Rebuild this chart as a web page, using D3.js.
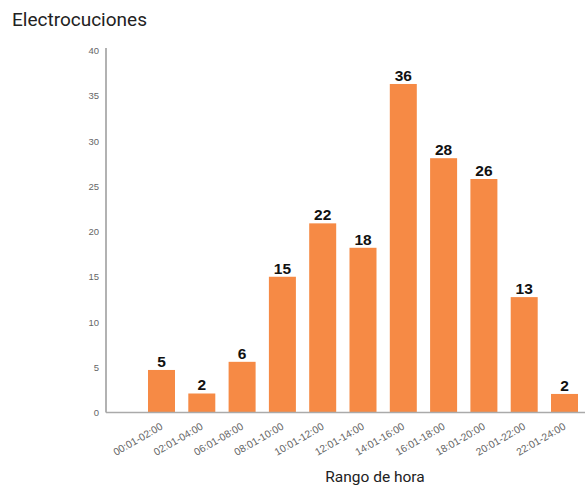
<!DOCTYPE html>
<html>
<head>
<meta charset="utf-8">
<script src="https://cdn.jsdelivr.net/npm/d3@7"></script>
<style>
  html, body { margin: 0; padding: 0; background: #fff; }
  svg { display: block; }
</style>
</head>
<body>
<svg id="chart" width="585" height="485"></svg>
<script>
// ---- data ----
const categorias = ["00:01-02:00", "02:01-04:00", "06:01-08:00", "08:01-10:00", "10:01-12:00",
  "12:01-14:00", "14:01-16:00", "16:01-18:00", "18:01-20:00", "20:01-22:00", "22:01-24:00"];
// bar heights as drawn in the reference
const alturas = [4.7, 2.1, 5.6, 15, 20.9, 18.2, 36.3, 28.1, 25.8, 12.75, 2.05];
// value labels printed above the bars
const etiquetas = [5, 2, 6, 15, 22, 18, 36, 28, 26, 13, 2];
const yTicks = [0, 5, 10, 15, 20, 25, 30, 35, 40];
const titulo = "Electrocuciones";
const tituloX = "Rango de hora";

// ---- drawing ----
const svg = d3.select("#chart");
const axisX0 = 106, axisX1 = 585;

const x = d3.scaleBand().domain(categorias).range([148, 578]).paddingInner(0.33).paddingOuter(0);
const y = d3.scaleLinear().domain([0, 40]).range([412.5, 50.5]);

// title
svg.append("text").attr("x", 12).attr("y", 26)
  .attr("font-family", "Roboto, 'Liberation Sans', sans-serif")
  .attr("font-size", 19).attr("fill", "#222").text(titulo);

// bars
svg.append("g").selectAll("rect").data(categorias).join("rect")
  .attr("x", d => x(d))
  .attr("width", x.bandwidth())
  .attr("y", (d, i) => y(alturas[i]))
  .attr("height", (d, i) => y(0) - y(alturas[i]))
  .attr("fill", "#F68A45");

// value labels
svg.append("g").selectAll("text").data(categorias).join("text")
  .attr("x", d => x(d) + x.bandwidth() / 2)
  .attr("y", (d, i) => y(alturas[i]) - 3)
  .attr("text-anchor", "middle")
  .attr("font-family", "'Liberation Sans', Arial, sans-serif")
  .attr("font-weight", "bold").attr("font-size", 15.5).attr("fill", "#111")
  .text((d, i) => etiquetas[i]);

// y axis
const yAxis = svg.append("g").attr("transform", `translate(${axisX0},0)`)
  .call(d3.axisLeft(y).tickValues(yTicks).tickSize(0).tickPadding(7));
yAxis.select(".domain").remove();
yAxis.selectAll("text").attr("font-family", "'Liberation Sans', Arial, sans-serif")
  .attr("font-size", 9.5).attr("fill", "#666");
svg.append("line").attr("x1", axisX0).attr("x2", axisX0).attr("y1", 48).attr("y2", y(0))
  .attr("stroke", "#999").attr("stroke-width", 1.5);

// x axis
const xAxis = svg.append("g").attr("transform", `translate(0,${y(0)})`)
  .call(d3.axisBottom(x).tickSize(0).tickPadding(0));
xAxis.select(".domain").remove();
xAxis.selectAll("text")
  .attr("font-family", "'Liberation Sans', Arial, sans-serif")
  .attr("font-size", 10.3).attr("fill", "#666")
  .attr("text-anchor", "end")
  .attr("dy", 0)
  .attr("y", 0)
  .attr("transform", "translate(2,16) rotate(-30)");
svg.append("line").attr("x1", axisX0).attr("x2", axisX1).attr("y1", y(0)).attr("y2", y(0))
  .attr("stroke", "#aaa").attr("stroke-width", 1.5);

// x title
svg.append("text").attr("x", 375).attr("y", 481.5).attr("text-anchor", "middle")
  .attr("font-family", "Roboto, 'Liberation Sans', sans-serif")
  .attr("font-size", 15.5).attr("fill", "#222").text(tituloX);
</script>
</body>
</html>
